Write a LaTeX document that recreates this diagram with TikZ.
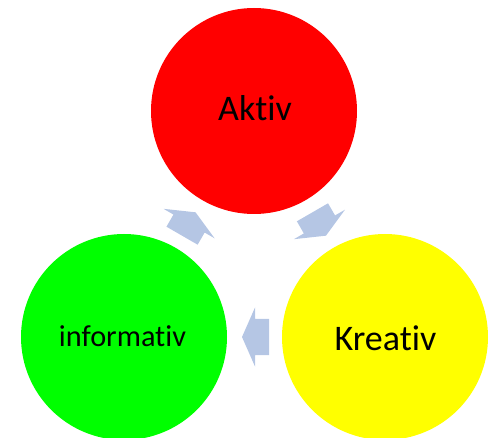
\documentclass[tikz,border=0pt]{standalone}
\usepackage{fontspec}
\setmainfont{Carlito}[Ligatures=NoCommon]
\definecolor{arrowblue}{RGB}{181,198,228}
\tikzset{
  circ/.style={circle, draw=none, minimum size=206pt, inner sep=0pt},
  lbl/.style={anchor=base, text=black, inner sep=0pt},
  cyclearrow/.style={fill=arrowblue, draw=none},
}
\begin{document}
\begin{tikzpicture}[x=1pt,y=1pt]
\useasboundingbox (0,0) rectangle (493,437);
\clip (0,0) rectangle (493,437);
\node[circ, fill={rgb,255:red,255;green,0;blue,0}] (aktiv) at (254,326) {};
\node[circ, fill={rgb,255:red,255;green,255;blue,0}] (kreativ) at (385,100) {};
\node[circ, fill={rgb,255:red,0;green,255;blue,0}] (informativ) at (124,100) {};
\node[lbl, font=\fontsize{36}{40}\selectfont] (taktiv) at (255,316) {Aktiv};
\node[lbl, font=\fontsize{36}{40}\selectfont] (tkreativ) at (385.5,87) {Kreativ};
\node[lbl, font=\fontsize{30.3}{34}\selectfont] (tinformativ) at (122.5,90.3) {informativ};
\foreach \cx/\cy/\ang in {188.8/213/60, 319.2/213/-60, 255.5/100/180}{
  \begin{scope}[shift={(\cx,\cy)}, rotate=\ang]
    \fill[cyclearrow] (-13.5,-18) -- (0.5,-18) -- (0.5,-29.5) -- (13.5,0) -- (0.5,29.5) -- (0.5,18) -- (-13.5,18) -- cycle;
  \end{scope}
}
\end{tikzpicture}
\end{document}
